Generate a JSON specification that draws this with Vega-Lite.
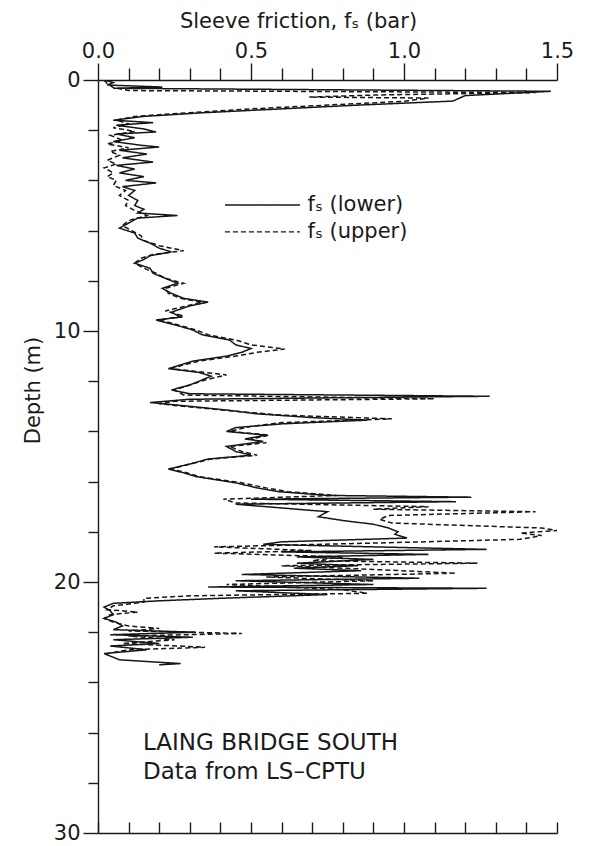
{
  "$schema": "https://vega.github.io/schema/vega-lite/v6.json",
  "autosize": "none",
  "padding": {"left": 98, "top": 80, "right": 53, "bottom": 13},
  "width": 459,
  "height": 753,
  "background": "white",
  "config": {
    "view": {"stroke": null},
    "font": "DejaVu Sans",
    "axis": {"labelFont": "DejaVu Sans", "titleFont": "DejaVu Sans", "labelColor": "#1a1a1a", "titleColor": "#1a1a1a", "domainColor": "#1a1a1a", "tickColor": "#1a1a1a", "grid": false, "titleFontWeight": "normal", "labelFontWeight": "normal", "domainWidth": 1.4, "tickWidth": 1.4}
  },
  "datasets": {
    "trace": [
      {"s":"lower","depth":0.0,"fs":0.02},{"s":"lower","depth":0.1,"fs":0.05},{"s":"lower","depth":0.2,"fs":0.03},{"s":"lower","depth":0.28,"fs":0.21},{"s":"lower","depth":0.33,"fs":0.05},{"s":"lower","depth":0.45,"fs":1.48},{"s":"lower","depth":0.62,"fs":1.2},{"s":"lower","depth":0.84,"fs":1.16},{"s":"lower","depth":1.0,"fs":0.85},{"s":"lower","depth":1.15,"fs":0.6},{"s":"lower","depth":1.3,"fs":0.35},{"s":"lower","depth":1.45,"fs":0.15},{"s":"lower","depth":1.6,"fs":0.05},
      {"s":"lower","depth":1.7,"fs":0.18},{"s":"lower","depth":1.8,"fs":0.06},{"s":"lower","depth":1.95,"fs":0.15},{"s":"lower","depth":2.07,"fs":0.19},{"s":"lower","depth":2.15,"fs":0.06},{"s":"lower","depth":2.3,"fs":0.12},{"s":"lower","depth":2.45,"fs":0.05},{"s":"lower","depth":2.6,"fs":0.14},{"s":"lower","depth":2.67,"fs":0.2},{"s":"lower","depth":2.8,"fs":0.07},{"s":"lower","depth":2.95,"fs":0.16},{"s":"lower","depth":3.1,"fs":0.08},{"s":"lower","depth":3.27,"fs":0.18},{"s":"lower","depth":3.4,"fs":0.06},{"s":"lower","depth":3.55,"fs":0.12},{"s":"lower","depth":3.7,"fs":0.07},{"s":"lower","depth":3.85,"fs":0.15},{"s":"lower","depth":4.0,"fs":0.09},{"s":"lower","depth":4.1,"fs":0.19},{"s":"lower","depth":4.25,"fs":0.08},{"s":"lower","depth":4.4,"fs":0.12},{"s":"lower","depth":4.6,"fs":0.1},{"s":"lower","depth":4.8,"fs":0.13},{"s":"lower","depth":5.0,"fs":0.12},{"s":"lower","depth":5.15,"fs":0.15},{"s":"lower","depth":5.3,"fs":0.13},{"s":"lower","depth":5.4,"fs":0.26},{"s":"lower","depth":5.5,"fs":0.13},{"s":"lower","depth":5.7,"fs":0.1},{"s":"lower","depth":5.9,"fs":0.07},{"s":"lower","depth":6.1,"fs":0.12},{"s":"lower","depth":6.3,"fs":0.13},{"s":"lower","depth":6.5,"fs":0.17},{"s":"lower","depth":6.7,"fs":0.2},{"s":"lower","depth":6.85,"fs":0.24},{"s":"lower","depth":7.0,"fs":0.17},{"s":"lower","depth":7.15,"fs":0.15},{"s":"lower","depth":7.3,"fs":0.12},{"s":"lower","depth":7.5,"fs":0.17},{"s":"lower","depth":7.7,"fs":0.18},{"s":"lower","depth":7.9,"fs":0.22},{"s":"lower","depth":8.1,"fs":0.26},{"s":"lower","depth":8.3,"fs":0.21},{"s":"lower","depth":8.5,"fs":0.24},{"s":"lower","depth":8.7,"fs":0.28},{"s":"lower","depth":8.85,"fs":0.36},{"s":"lower","depth":9.0,"fs":0.3},{"s":"lower","depth":9.25,"fs":0.24},{"s":"lower","depth":9.45,"fs":0.27},{"s":"lower","depth":9.56,"fs":0.19},{"s":"lower","depth":9.75,"fs":0.25},{"s":"lower","depth":9.96,"fs":0.31},{"s":"lower","depth":10.15,"fs":0.34},{"s":"lower","depth":10.36,"fs":0.43},{"s":"lower","depth":10.55,"fs":0.45},{"s":"lower","depth":10.7,"fs":0.5},{"s":"lower","depth":10.85,"fs":0.47},{"s":"lower","depth":11.0,"fs":0.42},{"s":"lower","depth":11.2,"fs":0.31},{"s":"lower","depth":11.35,"fs":0.27},{"s":"lower","depth":11.5,"fs":0.23},{"s":"lower","depth":11.65,"fs":0.33},{"s":"lower","depth":11.8,"fs":0.37},{"s":"lower","depth":11.95,"fs":0.34},{"s":"lower","depth":12.15,"fs":0.3},{"s":"lower","depth":12.35,"fs":0.24},{"s":"lower","depth":12.5,"fs":0.3},{"s":"lower","depth":12.6,"fs":1.28},{"s":"lower","depth":12.72,"fs":0.3},{"s":"lower","depth":12.85,"fs":0.17},{"s":"lower","depth":13.0,"fs":0.3},{"s":"lower","depth":13.15,"fs":0.42},{"s":"lower","depth":13.3,"fs":0.52},{"s":"lower","depth":13.45,"fs":0.7},{"s":"lower","depth":13.55,"fs":0.88},{"s":"lower","depth":13.7,"fs":0.6},{"s":"lower","depth":13.85,"fs":0.45},{"s":"lower","depth":14.0,"fs":0.42},{"s":"lower","depth":14.15,"fs":0.55},{"s":"lower","depth":14.3,"fs":0.48},{"s":"lower","depth":14.4,"fs":0.54},{"s":"lower","depth":14.6,"fs":0.42},{"s":"lower","depth":14.8,"fs":0.45},{"s":"lower","depth":14.95,"fs":0.5},{"s":"lower","depth":15.1,"fs":0.36},{"s":"lower","depth":15.3,"fs":0.3},{"s":"lower","depth":15.5,"fs":0.23},{"s":"lower","depth":15.65,"fs":0.28},{"s":"lower","depth":15.8,"fs":0.32},{"s":"lower","depth":16.05,"fs":0.45},{"s":"lower","depth":16.25,"fs":0.52},{"s":"lower","depth":16.4,"fs":0.59},{"s":"lower","depth":16.55,"fs":0.75},{"s":"lower","depth":16.62,"fs":1.22},{"s":"lower","depth":16.7,"fs":0.5},{"s":"lower","depth":16.8,"fs":1.17},{"s":"lower","depth":16.9,"fs":0.45},{"s":"lower","depth":17.05,"fs":0.6},{"s":"lower","depth":17.2,"fs":0.75},{"s":"lower","depth":17.4,"fs":0.72},{"s":"lower","depth":17.55,"fs":0.8},{"s":"lower","depth":17.7,"fs":0.9},{"s":"lower","depth":17.85,"fs":0.95},{"s":"lower","depth":18.0,"fs":0.98},{"s":"lower","depth":18.1,"fs":0.97},{"s":"lower","depth":18.25,"fs":1.01},{"s":"lower","depth":18.4,"fs":0.6},{"s":"lower","depth":18.5,"fs":0.54},{"s":"lower","depth":18.6,"fs":0.9},{"s":"lower","depth":18.7,"fs":1.27},{"s":"lower","depth":18.8,"fs":0.6},{"s":"lower","depth":18.9,"fs":1.08},{"s":"lower","depth":19.0,"fs":0.65},{"s":"lower","depth":19.1,"fs":0.9},{"s":"lower","depth":19.25,"fs":0.65},{"s":"lower","depth":19.35,"fs":0.85},{"s":"lower","depth":19.45,"fs":0.64},{"s":"lower","depth":19.55,"fs":0.86},{"s":"lower","depth":19.7,"fs":0.47},{"s":"lower","depth":19.85,"fs":1.05},{"s":"lower","depth":19.95,"fs":0.45},{"s":"lower","depth":20.1,"fs":0.9},{"s":"lower","depth":20.2,"fs":0.36},{"s":"lower","depth":20.25,"fs":1.27},{"s":"lower","depth":20.35,"fs":0.45},{"s":"lower","depth":20.5,"fs":0.75},{"s":"lower","depth":20.65,"fs":0.4},{"s":"lower","depth":20.75,"fs":0.2},{"s":"lower","depth":20.85,"fs":0.05},{"s":"lower","depth":21.0,"fs":0.02},{"s":"lower","depth":21.15,"fs":0.04},{"s":"lower","depth":21.3,"fs":0.05},{"s":"lower","depth":21.45,"fs":0.02},{"s":"lower","depth":21.6,"fs":0.06},{"s":"lower","depth":21.75,"fs":0.08},{"s":"lower","depth":21.9,"fs":0.05},{"s":"lower","depth":22.0,"fs":0.32},{"s":"lower","depth":22.1,"fs":0.04},{"s":"lower","depth":22.2,"fs":0.31},{"s":"lower","depth":22.3,"fs":0.05},{"s":"lower","depth":22.45,"fs":0.2},{"s":"lower","depth":22.55,"fs":0.04},{"s":"lower","depth":22.7,"fs":0.16},{"s":"lower","depth":22.85,"fs":0.02},{"s":"lower","depth":23.0,"fs":0.05},{"s":"lower","depth":23.1,"fs":0.07},{"s":"lower","depth":23.25,"fs":0.27},{"s":"lower","depth":23.3,"fs":0.2},
      {"s":"upper","depth":0.0,"fs":0.02},{"s":"upper","depth":0.15,"fs":0.03},{"s":"upper","depth":0.3,"fs":0.05},{"s":"upper","depth":0.42,"fs":0.1},{"s":"upper","depth":0.5,"fs":1.43},{"s":"upper","depth":0.6,"fs":0.9},{"s":"upper","depth":0.68,"fs":0.69},{"s":"upper","depth":0.72,"fs":1.08},{"s":"upper","depth":0.85,"fs":1.0},{"s":"upper","depth":1.0,"fs":0.75},{"s":"upper","depth":1.15,"fs":0.5},{"s":"upper","depth":1.3,"fs":0.3},{"s":"upper","depth":1.45,"fs":0.12},{"s":"upper","depth":1.6,"fs":0.06},{"s":"upper","depth":1.75,"fs":0.1},{"s":"upper","depth":1.9,"fs":0.05},{"s":"upper","depth":2.05,"fs":0.12},{"s":"upper","depth":2.2,"fs":0.04},{"s":"upper","depth":2.4,"fs":0.08},{"s":"upper","depth":2.55,"fs":0.03},{"s":"upper","depth":2.7,"fs":0.1},{"s":"upper","depth":2.85,"fs":0.04},{"s":"upper","depth":3.0,"fs":0.07},{"s":"upper","depth":3.2,"fs":0.03},{"s":"upper","depth":3.35,"fs":0.06},{"s":"upper","depth":3.5,"fs":0.02},{"s":"upper","depth":3.7,"fs":0.05},{"s":"upper","depth":3.85,"fs":0.03},{"s":"upper","depth":4.0,"fs":0.06},{"s":"upper","depth":4.2,"fs":0.05},{"s":"upper","depth":4.4,"fs":0.09},{"s":"upper","depth":4.6,"fs":0.07},{"s":"upper","depth":4.8,"fs":0.1},{"s":"upper","depth":5.0,"fs":0.09},{"s":"upper","depth":5.2,"fs":0.12},{"s":"upper","depth":5.4,"fs":0.16},{"s":"upper","depth":5.6,"fs":0.1},{"s":"upper","depth":5.8,"fs":0.08},{"s":"upper","depth":6.0,"fs":0.11},{"s":"upper","depth":6.2,"fs":0.14},{"s":"upper","depth":6.4,"fs":0.15},{"s":"upper","depth":6.6,"fs":0.2},{"s":"upper","depth":6.8,"fs":0.28},{"s":"upper","depth":6.95,"fs":0.18},{"s":"upper","depth":7.1,"fs":0.14},{"s":"upper","depth":7.3,"fs":0.12},{"s":"upper","depth":7.5,"fs":0.15},{"s":"upper","depth":7.7,"fs":0.19},{"s":"upper","depth":7.9,"fs":0.22},{"s":"upper","depth":8.1,"fs":0.28},{"s":"upper","depth":8.3,"fs":0.22},{"s":"upper","depth":8.5,"fs":0.23},{"s":"upper","depth":8.7,"fs":0.27},{"s":"upper","depth":8.85,"fs":0.34},{"s":"upper","depth":9.0,"fs":0.29},{"s":"upper","depth":9.2,"fs":0.22},{"s":"upper","depth":9.4,"fs":0.28},{"s":"upper","depth":9.56,"fs":0.2},{"s":"upper","depth":9.75,"fs":0.26},{"s":"upper","depth":9.96,"fs":0.32},{"s":"upper","depth":10.15,"fs":0.36},{"s":"upper","depth":10.36,"fs":0.45},{"s":"upper","depth":10.55,"fs":0.5},{"s":"upper","depth":10.72,"fs":0.61},{"s":"upper","depth":10.85,"fs":0.52},{"s":"upper","depth":11.0,"fs":0.45},{"s":"upper","depth":11.2,"fs":0.33},{"s":"upper","depth":11.35,"fs":0.28},{"s":"upper","depth":11.5,"fs":0.24},{"s":"upper","depth":11.65,"fs":0.35},{"s":"upper","depth":11.75,"fs":0.42},{"s":"upper","depth":11.95,"fs":0.35},{"s":"upper","depth":12.15,"fs":0.3},{"s":"upper","depth":12.35,"fs":0.25},{"s":"upper","depth":12.55,"fs":0.28},{"s":"upper","depth":12.7,"fs":1.1},{"s":"upper","depth":12.8,"fs":0.25},{"s":"upper","depth":12.9,"fs":0.2},{"s":"upper","depth":13.05,"fs":0.32},{"s":"upper","depth":13.2,"fs":0.45},{"s":"upper","depth":13.35,"fs":0.6},{"s":"upper","depth":13.5,"fs":0.96},{"s":"upper","depth":13.65,"fs":0.6},{"s":"upper","depth":13.8,"fs":0.5},{"s":"upper","depth":14.0,"fs":0.43},{"s":"upper","depth":14.15,"fs":0.56},{"s":"upper","depth":14.3,"fs":0.5},{"s":"upper","depth":14.45,"fs":0.55},{"s":"upper","depth":14.6,"fs":0.43},{"s":"upper","depth":14.8,"fs":0.47},{"s":"upper","depth":14.95,"fs":0.52},{"s":"upper","depth":15.1,"fs":0.37},{"s":"upper","depth":15.3,"fs":0.3},{"s":"upper","depth":15.5,"fs":0.24},{"s":"upper","depth":15.65,"fs":0.29},{"s":"upper","depth":15.8,"fs":0.33},{"s":"upper","depth":16.05,"fs":0.47},{"s":"upper","depth":16.25,"fs":0.55},{"s":"upper","depth":16.4,"fs":0.62},{"s":"upper","depth":16.55,"fs":0.78},{"s":"upper","depth":16.7,"fs":0.41},{"s":"upper","depth":16.85,"fs":0.45},{"s":"upper","depth":17.0,"fs":1.08},{"s":"upper","depth":17.1,"fs":0.9},{"s":"upper","depth":17.2,"fs":1.43},{"s":"upper","depth":17.35,"fs":0.95},{"s":"upper","depth":17.5,"fs":0.92},{"s":"upper","depth":17.65,"fs":0.96},{"s":"upper","depth":17.85,"fs":1.45},{"s":"upper","depth":17.95,"fs":1.5},{"s":"upper","depth":18.05,"fs":1.38},{"s":"upper","depth":18.15,"fs":1.45},{"s":"upper","depth":18.3,"fs":1.38},{"s":"upper","depth":18.45,"fs":0.9},{"s":"upper","depth":18.6,"fs":0.38},{"s":"upper","depth":18.75,"fs":0.7},{"s":"upper","depth":18.85,"fs":0.38},{"s":"upper","depth":19.0,"fs":0.8},{"s":"upper","depth":19.15,"fs":0.7},{"s":"upper","depth":19.25,"fs":1.24},{"s":"upper","depth":19.35,"fs":0.6},{"s":"upper","depth":19.5,"fs":0.9},{"s":"upper","depth":19.65,"fs":1.17},{"s":"upper","depth":19.8,"fs":0.55},{"s":"upper","depth":19.95,"fs":0.9},{"s":"upper","depth":20.1,"fs":0.42},{"s":"upper","depth":20.3,"fs":0.8},{"s":"upper","depth":20.45,"fs":0.88},{"s":"upper","depth":20.55,"fs":0.3},{"s":"upper","depth":20.65,"fs":0.15},{"s":"upper","depth":20.8,"fs":0.15},{"s":"upper","depth":20.95,"fs":0.05},{"s":"upper","depth":21.1,"fs":0.03},{"s":"upper","depth":21.2,"fs":0.13},{"s":"upper","depth":21.3,"fs":0.04},{"s":"upper","depth":21.45,"fs":0.02},{"s":"upper","depth":21.6,"fs":0.05},{"s":"upper","depth":21.75,"fs":0.1},{"s":"upper","depth":21.85,"fs":0.2},{"s":"upper","depth":21.95,"fs":0.1},{"s":"upper","depth":22.05,"fs":0.47},{"s":"upper","depth":22.15,"fs":0.1},{"s":"upper","depth":22.3,"fs":0.25},{"s":"upper","depth":22.45,"fs":0.08},{"s":"upper","depth":22.6,"fs":0.35},{"s":"upper","depth":22.7,"fs":0.1},{"s":"upper","depth":22.85,"fs":0.03},{"s":"upper","depth":23.0,"fs":0.03}
    ],
    "legend": [
      {"s":"lower","x1":0.415,"x2":0.66,"depth":4.98,"tx":0.685,"label":"fₛ  (lower)"},
      {"s":"upper","x1":0.415,"x2":0.66,"depth":6.05,"tx":0.685,"label":"fₛ  (upper)"}
    ],
    "notes": [
      {"x":0.147,"depth":26.4,"label":"LAING  BRIDGE  SOUTH"},
      {"x":0.147,"depth":27.55,"label":"Data  from  LS–CPTU"}
    ]
  },
  "resolve": {"axis": {"x": "independent"}},
  "layer": [
    {
      "data": {"name": "trace"},
      "mark": {"type": "line", "color": "#161616", "strokeWidth": 1.5, "clip": true},
      "encoding": {
        "x": {"field": "fs", "type": "quantitative", "scale": {"domain": [0, 1.5], "nice": false},
          "axis": {"orient": "top", "values": [0,0.1,0.2,0.3,0.4,0.5,0.6,0.7,0.8,0.9,1.0,1.1,1.2,1.3,1.4,1.5],
            "labelExpr": "round(datum.value*10) % 5 === 0 ? format(datum.value, '.1f') : ''",
            "tickSize": {"condition": {"test": "round(datum.value*10) % 5 === 0", "value": 17}, "value": 12},
            "labelFontSize": 21, "labelPadding": 2, "labelFlush": false, "labelOverlap": false,
            "title": "Sleeve friction, fₛ (bar)", "titleFontSize": 21, "titleFontWeight": "normal", "titlePadding": 9, "titleX": 200}},
        "y": {"field": "depth", "type": "quantitative", "scale": {"domain": [0, 30], "reverse": true, "nice": false},
          "axis": {"orient": "left", "values": [0,1,2,3,4,5,6,7,8,9,10,11,12,13,14,15,16,17,18,19,20,21,22,23,24,25,26,27,28,29,30],
            "labelExpr": "datum.value % 5 === 0 ? datum.label : ''",
            "tickSize": {"condition": {"test": "datum.value % 5 === 0", "value": 15}, "value": 10},
            "labelFontSize": 21, "labelPadding": 3, "labelFlush": false, "labelOverlap": false,
            "title": "Depth (m)", "titleFontSize": 21, "titleFontWeight": "normal", "titleY": 310, "titlePadding": 10}},
        "strokeDash": {"field": "s", "type": "nominal", "scale": {"domain": ["lower", "upper"], "range": [[1, 0], [5, 3]]}, "legend": null},
        "order": {"field": "depth", "type": "quantitative"}
      }
    },
    {
      "data": {"name": "legend"},
      "mark": {"type": "rule", "color": "#161616", "strokeWidth": 1.4},
      "encoding": {
        "x": {"field": "x1", "type": "quantitative", "scale": {"domain": [0, 1.5], "nice": false},
          "axis": {"orient": "bottom", "values": [0,0.1,0.2,0.3,0.4,0.5,0.6,0.7,0.8,0.9,1.0,1.1,1.2,1.3,1.4,1.5], "labels": false, "tickSize": -11, "title": null}},
        "x2": {"field": "x2"},
        "y": {"field": "depth", "type": "quantitative"},
        "strokeDash": {"field": "s", "type": "nominal", "scale": {"domain": ["lower", "upper"], "range": [[1, 0], [5, 3]]}, "legend": null}
      }
    },
    {
      "data": {"name": "legend"},
      "mark": {"type": "text", "align": "left", "baseline": "middle", "fontSize": 21, "color": "#1a1a1a", "font": "DejaVu Sans"},
      "encoding": {
        "x": {"field": "tx", "type": "quantitative", "axis": null},
        "y": {"field": "depth", "type": "quantitative"},
        "text": {"field": "label"}
      }
    },
    {
      "data": {"name": "notes"},
      "mark": {"type": "text", "align": "left", "baseline": "middle", "fontSize": 23, "color": "#1a1a1a", "font": "DejaVu Sans"},
      "encoding": {
        "x": {"field": "x", "type": "quantitative", "axis": null},
        "y": {"field": "depth", "type": "quantitative"},
        "text": {"field": "label"}
      }
    }
  ]
}
